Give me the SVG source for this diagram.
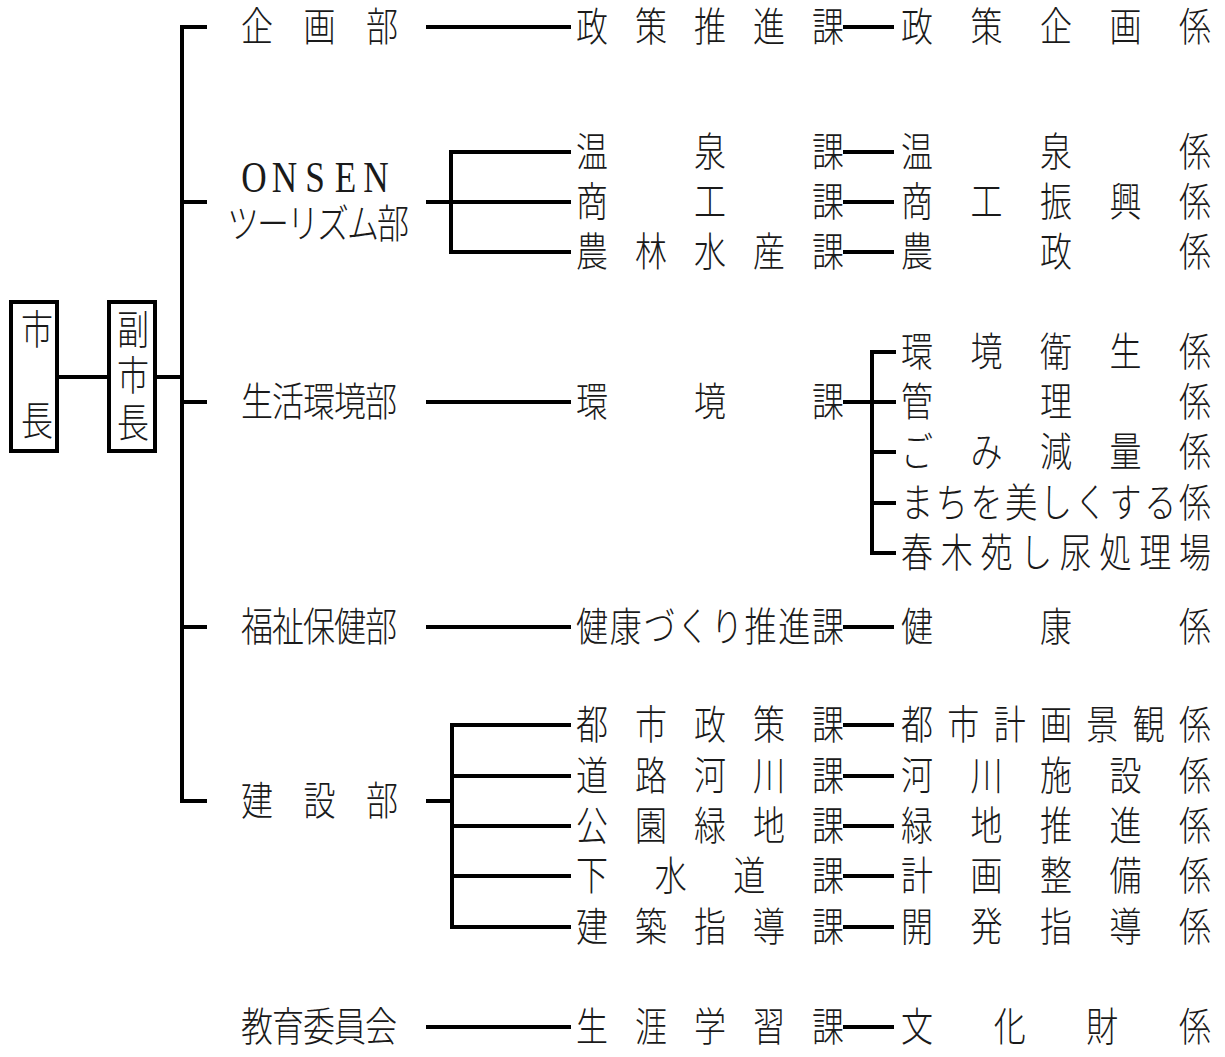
<svg xmlns="http://www.w3.org/2000/svg" width="1225" height="1057" viewBox="0 0 1225 1057">
<style>
.t{font-family:"Noto Sans CJK JP","Noto Sans CJK SC",sans-serif;font-size:40px;font-weight:300;fill:#1a1a1a}
.l{font-family:"Liberation Serif","Noto Sans CJK JP",serif;font-size:44px;font-weight:400;fill:#1a1a1a;text-anchor:middle}
.c{fill:none;stroke:#000;stroke-width:4;stroke-linejoin:miter;stroke-linecap:butt}
.b{fill:#fff;stroke:#000;stroke-width:4}
</style>
<rect width="1225" height="1057" fill="#fff"/>
<g id="connectors" class="c">
<path d="M59,377 H109"/>
<path d="M155,377 H182"/>
<path d="M207,27 H182 V801 H207"/>
<path d="M182,202 H207 M182,402 H207 M182,627 H207"/>
<path d="M426,27 H571 M843,27 H894"/>
<path d="M426,202 H571 M571,152 H451 V252 H571"/>
<path d="M843,152 H894 M843,202 H894 M843,252 H894"/>
<path d="M426,402 H571 M843,402 H896 M896,352 H872 V553 H896 M872,452 H896 M872,503 H896"/>
<path d="M426,627 H571 M843,627 H894"/>
<path d="M426,801 H452 M571,725 H452 V927 H571 M452,776 H571 M452,826 H571 M452,876 H571"/>
<path d="M843,725 H894 M843,776 H894 M843,826 H894 M843,876 H894 M843,927 H894"/>
<path d="M426,1027 H571 M843,1027 H894"/>
</g>
<g id="mayor"><rect class="b" x="11" y="302" width="46" height="149"/><text class="t" transform="scale(0.8,1)" x="26.25" y="344">市</text><text class="t" transform="scale(0.8,1)" x="26.25" y="435">長</text></g>
<g id="vicemayor"><rect class="b" x="109" y="302" width="46" height="149"/><text class="t" transform="scale(0.8,1)" x="146.25" y="344">副</text><text class="t" transform="scale(0.8,1)" x="146.25" y="390">市</text><text class="t" transform="scale(0.8,1)" x="146.25" y="437">長</text></g>
<g transform="scale(0.8,1)" class="t">
<g id="dept-kikaku"><text x="301.25 379.4 457.5" y="41">企画部</text></g>
<g id="dept-onsen"><text class="l" x="317.5 355.6 393.75 431.9 470" y="192">ONSEN</text><text x="283.75 321.25 358.75 396.25 433.75 471.25" y="238">ツーリズム部</text></g>
<g id="dept-seikatsu"><text x="301.25 340 378.75 417.5 456.25" y="416">生活環境部</text></g>
<g id="dept-fukushi"><text x="301.25 340 378.75 417.5 456.25" y="641">福祉保健部</text></g>
<g id="dept-kensetsu"><text x="301.25 379.4 457.5" y="815">建設部</text></g>
<g id="dept-kyoiku"><text x="301.25 340 378.75 417.5 456.25" y="1041">教育委員会</text></g>

<g id="ka-seisaku"><text x="720 793.75 867.5 941.25 1015" y="41">政策推進課</text></g>
<g id="ka-onsen"><text x="720 867.5 1015" y="166">温泉課</text></g>
<g id="ka-shoko"><text x="720 867.5 1015" y="216">商工課</text></g>
<g id="ka-norin"><text x="720 793.75 867.5 941.25 1015" y="266">農林水産課</text></g>
<g id="ka-kankyo"><text x="720 867.5 1015" y="416">環境課</text></g>
<g id="ka-kenko"><text x="720 762.1 804.3 846.4 888.6 930.7 972.9 1015" y="641">健康づくり推進課</text></g>
<g id="ka-toshi"><text x="720 793.75 867.5 941.25 1015" y="739">都市政策課</text></g>
<g id="ka-doro"><text x="720 793.75 867.5 941.25 1015" y="790">道路河川課</text></g>
<g id="ka-koen"><text x="720 793.75 867.5 941.25 1015" y="840">公園緑地課</text></g>
<g id="ka-gesui"><text x="720 818.3 916.7 1015" y="890">下水道課</text></g>
<g id="ka-kenchiku"><text x="720 793.75 867.5 941.25 1015" y="941">建築指導課</text></g>
<g id="ka-shogai"><text x="720 793.75 867.5 941.25 1015" y="1041">生涯学習課</text></g>

<g id="kakari-seisaku"><text x="1126.3 1213.1 1300 1386.9 1473.8" y="41">政策企画係</text></g>
<g id="kakari-onsen"><text x="1126.3 1300 1473.8" y="166">温泉係</text></g>
<g id="kakari-shoko"><text x="1126.3 1213.1 1300 1386.9 1473.8" y="216">商工振興係</text></g>
<g id="kakari-nosei"><text x="1126.3 1300 1473.8" y="266">農政係</text></g>
<g id="kakari-eisei"><text x="1126.3 1213.1 1300 1386.9 1473.8" y="366">環境衛生係</text></g>
<g id="kakari-kanri"><text x="1126.3 1300 1473.8" y="416">管理係</text></g>
<g id="kakari-gomi"><text x="1126.3 1213.1 1300 1386.9 1473.8" y="466">ごみ減量係</text></g>
<g id="kakari-machi"><text x="1126.3 1169.7 1213.1 1256.6 1300 1343.4 1386.9 1430.3 1473.8" y="517">まちを美しくする係</text></g>
<g id="kakari-shinyo"><text x="1126.3 1175.9 1225.5 1275.2 1324.8 1374.5 1424.1 1473.8" y="567">春木苑し尿処理場</text></g>
<g id="kakari-kenko"><text x="1126.3 1300 1473.8" y="641">健康係</text></g>
<g id="kakari-keikan"><text x="1126.3 1184.2 1242.1 1300 1357.9 1415.8 1473.8" y="739">都市計画景観係</text></g>
<g id="kakari-kasen"><text x="1126.3 1213.1 1300 1386.9 1473.8" y="790">河川施設係</text></g>
<g id="kakari-ryokuchi"><text x="1126.3 1213.1 1300 1386.9 1473.8" y="840">緑地推進係</text></g>
<g id="kakari-keikaku"><text x="1126.3 1213.1 1300 1386.9 1473.8" y="890">計画整備係</text></g>
<g id="kakari-kaihatsu"><text x="1126.3 1213.1 1300 1386.9 1473.8" y="941">開発指導係</text></g>
<g id="kakari-bunka"><text x="1126.3 1242.1 1357.9 1473.8" y="1041">文化財係</text></g>
</g>
</svg>
